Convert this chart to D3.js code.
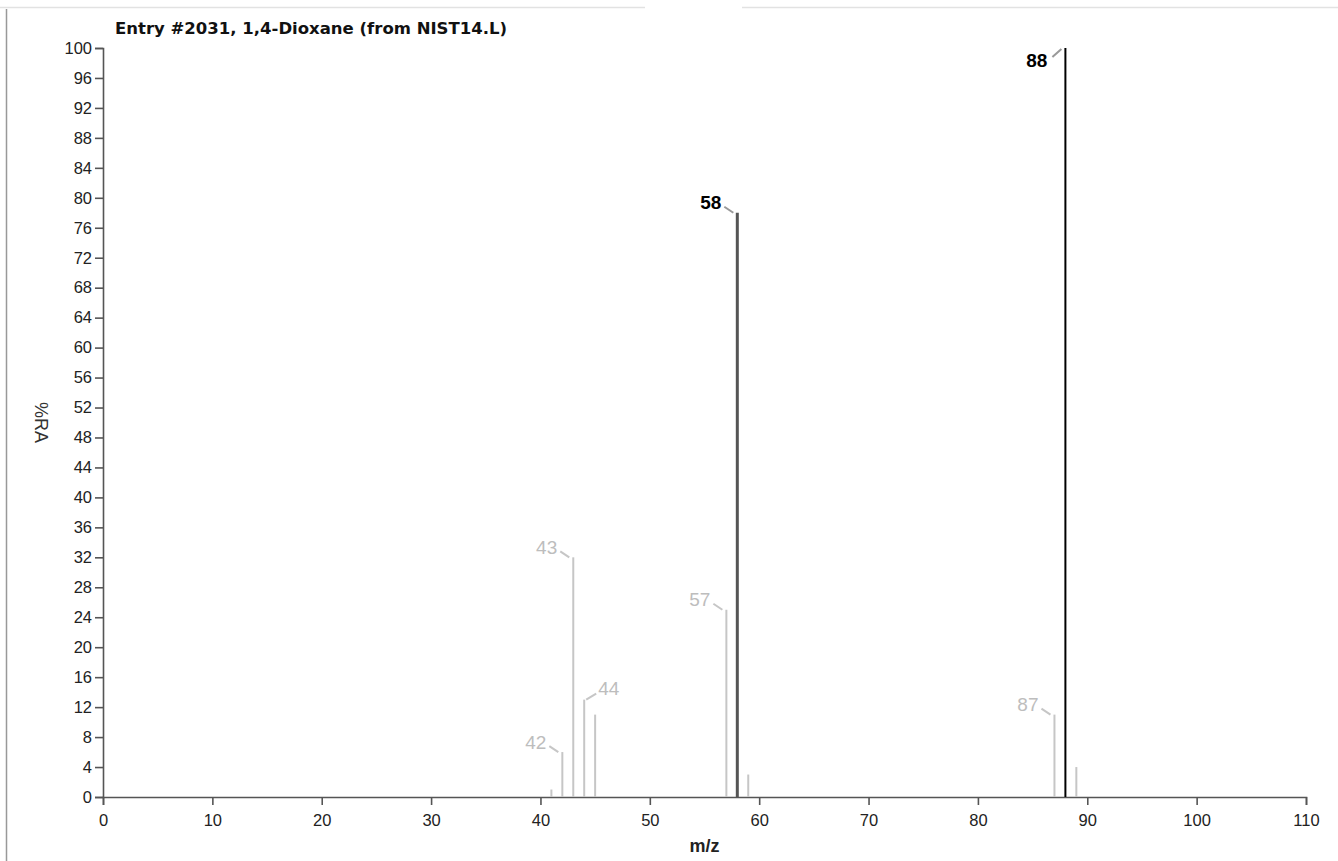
<!DOCTYPE html>
<html>
<head>
<meta charset="utf-8">
<script src="https://cdn.jsdelivr.net/npm/d3@7"></script>
<style>
  body { margin: 0; background: #fff; }
  svg { display: block; font-family: "Liberation Sans", Arial, sans-serif; }
  .axis path, .axis line { stroke: #555; stroke-width: 1.6; }
  .axis text { fill: #222; font-size: 16.5px; }
</style>
</head>
<body>
<div id="chart"></div>
<script>

// spectrum: m/z and relative abundance (%)
const mzValues = [41, 42, 43, 44, 45, 57, 58, 59, 87, 88, 89];
const raValues = [1, 6, 32, 13, 11, 25, 78, 3, 11, 100, 4];
const labeledPeaks = [42, 43, 44, 57, 58, 87, 88];
const xTicks = [0, 10, 20, 30, 40, 50, 60, 70, 80, 90, 100, 110];
const yTicks = d3.range(0, 101, 4);
const title = "Entry #2031, 1,4-Dioxane (from NIST14.L)";

// where the label sits relative to the peak top, default is up-left
const labelSide = { 44: "right", 88: "below" };

const totalWidth = 1338, totalHeight = 861;
const margin = { top: 48, right: 32, bottom: 64, left: 103 };
const width = totalWidth - margin.left - margin.right,
      height = totalHeight - margin.top - margin.bottom;

const peaks = mzValues.map((m, i) => ({ mz: m, ra: raValues[i] }));

function peakColor(v) {
    return v >= 90 ? "#000" : v >= 50 ? "#555" : "#c6c6c6";
}

let svg = d3.select("#chart").append("svg")
    .attr("width", totalWidth)
    .attr("height", totalHeight);

// page frame bits
svg.append("line")
    .attr("x1", 0).attr("x2", 645).attr("y1", 7.5).attr("y2", 7.5)
    .attr("stroke", "#e2e2e2").attr("stroke-width", 1.5);
svg.append("line")
    .attr("x1", 742).attr("x2", totalWidth).attr("y1", 7.5).attr("y2", 7.5)
    .attr("stroke", "#e2e2e2").attr("stroke-width", 1.5);
svg.append("line")
    .attr("x1", 6.5).attr("x2", 6.5).attr("y1", 9).attr("y2", totalHeight)
    .attr("stroke", "#999").attr("stroke-width", 1.5);

let g = svg.append("g")
    .attr("transform", "translate(" + margin.left + "," + margin.top + ")");

let x = d3.scaleLinear()
    .domain([0, 110])
    .range([0, width]);

let y = d3.scaleLinear()
    .domain([0, 100])
    .range([height, 0]);

g.append("g")
    .attr("class", "axis")
    .attr("transform", "translate(0," + height + ")")
    .call(d3.axisBottom(x).tickValues(xTicks).tickSizeOuter(0).tickSize(8).tickPadding(9));

g.append("g")
    .attr("class", "axis")
    .call(d3.axisLeft(y).tickValues(yTicks).tickSizeOuter(0).tickSize(8).tickPadding(3));

// title
g.append("text")
    .attr("x", 12)
    .attr("y", -14.5)
    .attr("font-family", "'DejaVu Sans', sans-serif")
    .attr("font-size", "16.5px")
    .attr("font-weight", "bold")
    .attr("fill", "#111")
    .text(title);

// axis titles
g.append("text")
    .attr("x", width / 2)
    .attr("y", height + 55)
    .attr("text-anchor", "middle")
    .attr("font-size", "18px")
    .attr("font-weight", "bold")
    .attr("fill", "#222")
    .text("m/z");

g.append("text")
    .attr("transform", "translate(" + (41 - margin.left) + "," + (height / 2) + ") rotate(90)")
    .attr("text-anchor", "middle")
    .attr("dominant-baseline", "central")
    .attr("font-size", "18px")
    .attr("fill", "#333")
    .text("%RA");

// sticks
g.selectAll(".peak")
    .data(peaks)
    .enter()
    .append("line")
    .attr("class", "peak")
    .attr("x1", d => x(d.mz))
    .attr("x2", d => x(d.mz))
    .attr("y1", y(0))
    .attr("y2", d => y(d.ra))
    .attr("stroke", d => peakColor(d.ra))
    .attr("stroke-width", d => d.ra >= 50 && d.ra < 90 ? 3 : 2);

// labels with small leader lines
let labels = g.selectAll(".plabel")
    .data(peaks.filter(d => labeledPeaks.includes(d.mz)))
    .enter()
    .append("g")
    .attr("class", "plabel")
    .attr("transform", d => "translate(" + x(d.mz) + "," + y(d.ra) + ")");

labels.append("line")
    .attr("x1", d => labelSide[d.mz] === "right" ? 2 : -13)
    .attr("y1", d => labelSide[d.mz] === "right" ? 0 : labelSide[d.mz] === "below" ? 9 : -6)
    .attr("x2", d => labelSide[d.mz] === "right" ? 12 : -4)
    .attr("y2", d => labelSide[d.mz] === "right" ? -6 : labelSide[d.mz] === "below" ? 1 : 0)
    .attr("stroke", d => d.ra >= 50 ? "#999" : "#c6c6c6")
    .attr("stroke-width", 2);

labels.append("text")
    .attr("x", d => labelSide[d.mz] === "right" ? 14 : labelSide[d.mz] === "below" ? -18 : -16)
    .attr("y", d => labelSide[d.mz] === "right" ? -11 : labelSide[d.mz] === "below" ? 12 : -10)
    .attr("text-anchor", d => labelSide[d.mz] === "right" ? "start" : "end")
    .attr("dominant-baseline", "central")
    .attr("font-size", "19px")
    .attr("font-weight", d => d.ra >= 50 ? "bold" : "normal")
    .attr("fill", d => d.ra >= 50 ? "#000" : "#bdbdbd")
    .text(d => d.mz);

</script>
</body>
</html>
